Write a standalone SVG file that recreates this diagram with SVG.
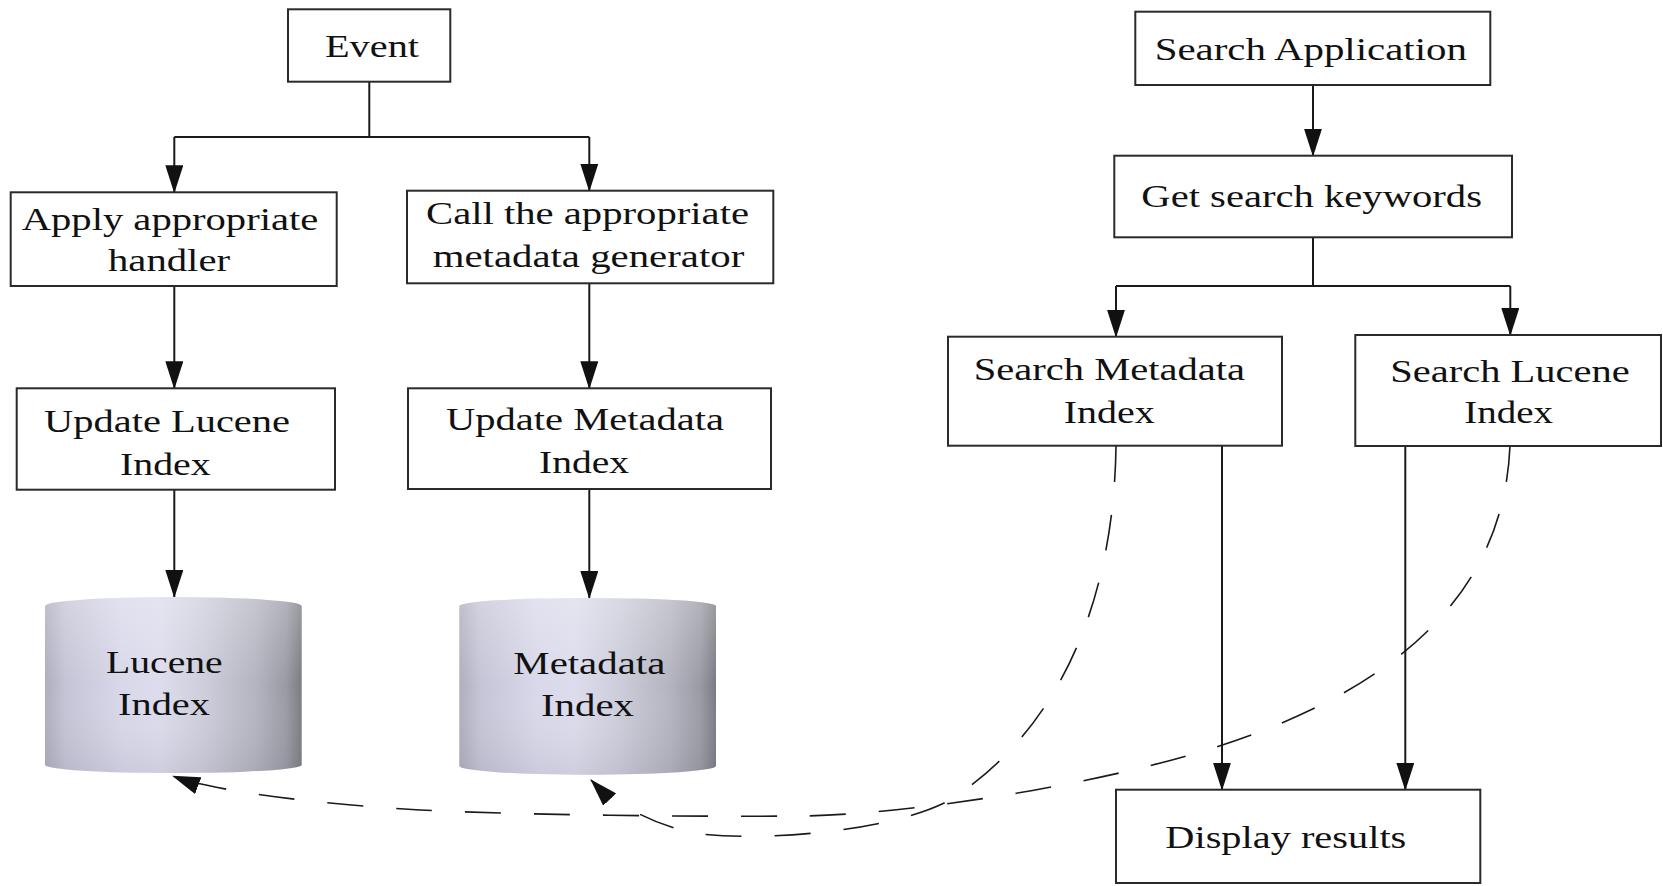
<svg xmlns="http://www.w3.org/2000/svg" width="1663" height="886" viewBox="0 0 1663 886">
<style>
.box{fill:#fff;stroke:#2a2a2a;stroke-width:2}
.t{font-family:"Liberation Serif","Times New Roman",serif;font-size:32px;fill:#111}
.ln{fill:none;stroke:#1a1a1a;stroke-width:2}
.ds{fill:none;stroke:#1a1a1a;stroke-width:1.6;stroke-dasharray:36 33}
.cyl{fill:url(#cg)}
.cylv{fill:url(#cv)}
</style>
<defs>
<marker id="ah" markerUnits="userSpaceOnUse" markerWidth="28" markerHeight="18" viewBox="0 0 28 18" refX="27" refY="9" orient="auto">
<path d="M0,0 L28,9 L0,18 z" fill="#111"/>
</marker>
<linearGradient id="cg" x1="0" y1="0" x2="1" y2="0">
<stop offset="0" stop-color="#adadbd"/>
<stop offset="0.08" stop-color="#c4c4d6"/>
<stop offset="0.3" stop-color="#d8d8ea"/>
<stop offset="0.45" stop-color="#dcdcec"/>
<stop offset="0.62" stop-color="#cdcddb"/>
<stop offset="0.82" stop-color="#b4b4c0"/>
<stop offset="0.94" stop-color="#9a9aa4"/>
<stop offset="1" stop-color="#7a7a82"/>
</linearGradient>
<linearGradient id="cv" x1="0" y1="0" x2="0" y2="1">
<stop offset="0" stop-color="#ffffff" stop-opacity="0.25"/>
<stop offset="0.5" stop-color="#ffffff" stop-opacity="0"/>
<stop offset="1" stop-color="#606070" stop-opacity="0.12"/>
</linearGradient>
</defs>
<rect width="1663" height="886" fill="#fff"/>

<g id="connectors">
<path class="ln" d="M369.3,81.7 V137 M174.3,137 H589.3"/>
<path class="ln" d="M174.3,137 V192.3" marker-end="url(#ah)"/>
<path class="ln" d="M589.3,137 V190.7" marker-end="url(#ah)"/>
<path class="ln" d="M174.3,286 V388.3" marker-end="url(#ah)"/>
<path class="ln" d="M589.3,283.3 V388.3" marker-end="url(#ah)"/>
<path class="ln" d="M174.3,489.7 V597" marker-end="url(#ah)"/>
<path class="ln" d="M589.3,489 V598" marker-end="url(#ah)"/>
<path class="ln" d="M1313,85 V155.7" marker-end="url(#ah)"/>
<path class="ln" d="M1313,237.3 V286 M1116,286 H1510.3"/>
<path class="ln" d="M1116,286 V336.7" marker-end="url(#ah)"/>
<path class="ln" d="M1510.3,286 V335" marker-end="url(#ah)"/>
<path class="ln" d="M1222,445.7 V789.7" marker-end="url(#ah)"/>
<path class="ln" d="M1405.3,446 V789.7" marker-end="url(#ah)"/>
<path class="ds" d="M1116,446 C1114,600 1060,730 950,800 C900,828 780,842 700,834 C660,828 615,805 591,780" marker-end="url(#ah)"/>
<path class="ds" d="M1510,446 C1505,560 1440,680 1200,752 C1080,788 900,815 800,816 C700,817 520,815 420,810 C330,805 215,792 173,776" marker-end="url(#ah)"/>
</g>

<g id="event">
<rect class="box" x="288" y="9.3" width="162.3" height="72.4"/>
<text class="t" x="325" y="56.5" textLength="94" lengthAdjust="spacingAndGlyphs">Event</text>
</g>
<g id="apply-handler">
<rect class="box" x="10.7" y="192.3" width="326" height="93.7"/>
<text class="t" x="21.7" y="230" textLength="296.6" lengthAdjust="spacingAndGlyphs">Apply appropriate</text>
<text class="t" x="108" y="270.7" textLength="122" lengthAdjust="spacingAndGlyphs">handler</text>
</g>
<g id="call-generator">
<rect class="box" x="407" y="190.7" width="366.3" height="92.6"/>
<text class="t" x="426" y="224" textLength="323" lengthAdjust="spacingAndGlyphs">Call the appropriate</text>
<text class="t" x="432.7" y="266.7" textLength="311.6" lengthAdjust="spacingAndGlyphs">metadata generator</text>
</g>
<g id="update-lucene">
<rect class="box" x="16.7" y="388.3" width="318.3" height="101.4"/>
<text class="t" x="44" y="432" textLength="246" lengthAdjust="spacingAndGlyphs">Update Lucene</text>
<text class="t" x="120" y="474.7" textLength="90.7" lengthAdjust="spacingAndGlyphs">Index</text>
</g>
<g id="update-metadata">
<rect class="box" x="408" y="388.3" width="363" height="100.7"/>
<text class="t" x="446" y="430" textLength="278" lengthAdjust="spacingAndGlyphs">Update Metadata</text>
<text class="t" x="539" y="473" textLength="90" lengthAdjust="spacingAndGlyphs">Index</text>
</g>
<g id="lucene-index">
<path class="cyl" d="M45,606 A128.35,9 0 0 1 301.7,606 L301.7,765 A128.35,8 0 0 1 45,765 Z"/>
<path class="cylv" d="M45,606 A128.35,9 0 0 1 301.7,606 L301.7,765 A128.35,8 0 0 1 45,765 Z"/>
<text class="t" x="106" y="673" textLength="116.7" lengthAdjust="spacingAndGlyphs">Lucene</text>
<text class="t" x="118" y="714.7" textLength="92" lengthAdjust="spacingAndGlyphs">Index</text>
</g>
<g id="metadata-index">
<path class="cyl" d="M459.3,606 A128.35,8 0 0 1 716,606 L716,766 A128.35,8.7 0 0 1 459.3,766 Z"/>
<path class="cylv" d="M459.3,606 A128.35,8 0 0 1 716,606 L716,766 A128.35,8.7 0 0 1 459.3,766 Z"/>
<text class="t" x="513.3" y="673.7" textLength="152" lengthAdjust="spacingAndGlyphs">Metadata</text>
<text class="t" x="541" y="716" textLength="93" lengthAdjust="spacingAndGlyphs">Index</text>
</g>
<g id="search-application">
<rect class="box" x="1135.3" y="11.7" width="355" height="73.3"/>
<text class="t" x="1154.7" y="60" textLength="312.3" lengthAdjust="spacingAndGlyphs">Search Application</text>
</g>
<g id="get-keywords">
<rect class="box" x="1114.3" y="155.7" width="397.7" height="81.6"/>
<text class="t" x="1141.3" y="206.7" textLength="340.7" lengthAdjust="spacingAndGlyphs">Get search keywords</text>
</g>
<g id="search-metadata">
<rect class="box" x="948" y="336.7" width="334" height="109"/>
<text class="t" x="973.7" y="380" textLength="271.3" lengthAdjust="spacingAndGlyphs">Search Metadata</text>
<text class="t" x="1063.7" y="422.7" textLength="91" lengthAdjust="spacingAndGlyphs">Index</text>
</g>
<g id="search-lucene">
<rect class="box" x="1355.3" y="335" width="305.7" height="111"/>
<text class="t" x="1390.3" y="381.7" textLength="239.4" lengthAdjust="spacingAndGlyphs">Search Lucene</text>
<text class="t" x="1464.3" y="423.3" textLength="88.7" lengthAdjust="spacingAndGlyphs">Index</text>
</g>
<g id="display-results">
<rect class="box" x="1116" y="789.7" width="364.3" height="93.3"/>
<text class="t" x="1165.3" y="848" textLength="241" lengthAdjust="spacingAndGlyphs">Display results</text>
</g>
</svg>
